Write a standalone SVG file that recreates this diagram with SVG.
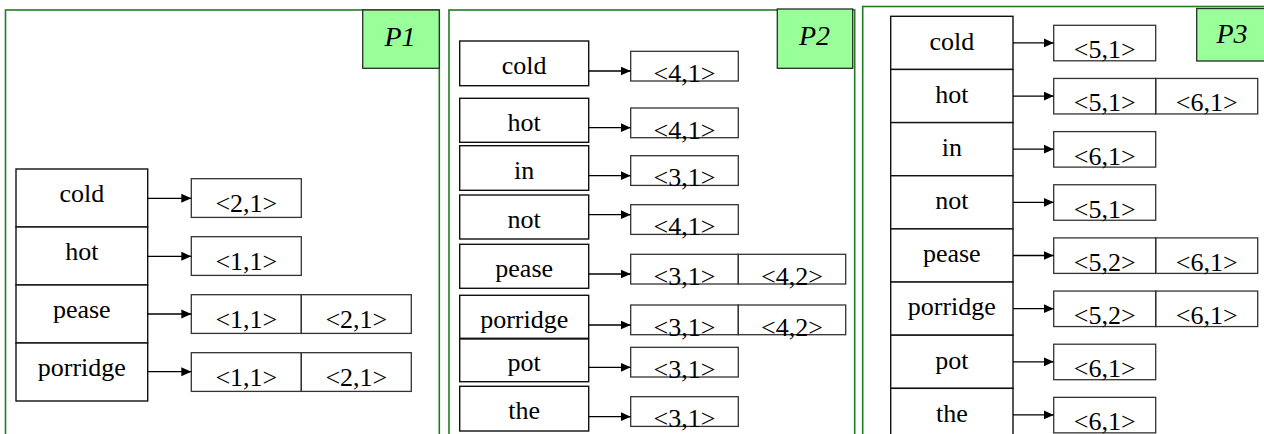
<svg xmlns="http://www.w3.org/2000/svg" width="1264" height="434" viewBox="0 0 1264 434">
<defs>
<style>
.panel{fill:#fff;stroke:#1e7d1e;stroke-width:1.6}
.lbl{fill:#99ff99;stroke:#2a2a2a;stroke-width:1.3}
.lt{font-family:'Liberation Serif','Tinos','Times New Roman','DejaVu Serif',serif;font-style:italic;font-size:28px;fill:#000;text-anchor:middle}
.w{fill:#fff;stroke:#111;stroke-width:1.4}
.v{fill:none;stroke:#333;stroke-width:1.3}
.t{font-family:'Liberation Serif','Tinos','Times New Roman','DejaVu Serif',serif;font-size:26px;fill:#000;text-anchor:middle}
.c{stroke:#000;stroke-width:1.3;fill:none;marker-end:url(#ah)}
</style>
<marker id="ah" markerUnits="userSpaceOnUse" markerWidth="12" markerHeight="10" refX="10" refY="5" orient="auto">
<path d="M0,0.5 L10,5 L0,9.5 Z" fill="#000"/>
</marker>
</defs>
<rect width="1264" height="434" fill="#fff"/>

<g id="panel-P1">
<rect class="panel" x="5.5" y="10" width="433.8" height="440"/>
<rect class="lbl" x="362.7" y="10" width="76.6" height="58.3"/>
<text class="lt" x="400" y="46" font-family="Liberation Serif, serif">P1</text>
</g>
<g id="panel-P2">
<rect class="panel" x="449" y="10" width="405.7" height="440"/>
<rect class="lbl" x="777.3" y="9" width="75.4" height="59.3"/>
<text class="lt" x="814.5" y="45" font-family="Liberation Serif, serif">P2</text>
</g>
<g id="panel-P3">
<rect class="panel" x="862.7" y="6.5" width="420" height="440"/>
<rect class="lbl" x="1196.7" y="8.5" width="80" height="52.5"/>
<text class="lt" x="1232" y="43" font-family="Liberation Serif, serif">P3</text>
</g>

<!-- P1 nodes -->
<g id="p1-cold"><rect class="w" x="16" y="169" width="131.7" height="58"/><text class="t" x="81.8" y="201.7">cold</text></g>
<g id="p1-hot"><rect class="w" x="16" y="227" width="131.7" height="58"/><text class="t" x="81.8" y="259.7">hot</text></g>
<g id="p1-pease"><rect class="w" x="16" y="285" width="131.7" height="58"/><text class="t" x="81.8" y="317.7">pease</text></g>
<g id="p1-porridge"><rect class="w" x="16" y="343" width="131.7" height="58"/><text class="t" x="81.8" y="375.7">porridge</text></g>
<g id="p1-cold-list"><rect class="v" x="191.3" y="178.7" width="110" height="38.7"/><text class="t" x="246.3" y="211.7">&lt;2,1&gt;</text></g>
<g id="p1-hot-list"><rect class="v" x="191.3" y="236.7" width="110" height="38.7"/><text class="t" x="246.3" y="269.7">&lt;1,1&gt;</text></g>
<g id="p1-pease-list"><rect class="v" x="191.3" y="294.7" width="110" height="38.7"/><rect class="v" x="301.3" y="294.7" width="110" height="38.7"/><text class="t" x="246.3" y="327.7">&lt;1,1&gt;</text><text class="t" x="356.3" y="327.7">&lt;2,1&gt;</text></g>
<g id="p1-porridge-list"><rect class="v" x="191.3" y="352.7" width="110" height="38.7"/><rect class="v" x="301.3" y="352.7" width="110" height="38.7"/><text class="t" x="246.3" y="385.7">&lt;1,1&gt;</text><text class="t" x="356.3" y="385.7">&lt;2,1&gt;</text></g>

<!-- P2 nodes -->
<g id="p2-cold"><rect class="w" x="459.7" y="41" width="129" height="44.7"/><text class="t" x="524.2" y="73.5">cold</text></g>
<g id="p2-hot"><rect class="w" x="459.7" y="98.3" width="129" height="44"/><text class="t" x="524.2" y="130.8">hot</text></g>
<g id="p2-in"><rect class="w" x="459.7" y="145.7" width="129" height="44.6"/><text class="t" x="524.2" y="178.7">in</text></g>
<g id="p2-not"><rect class="w" x="459.7" y="195" width="129" height="44"/><text class="t" x="524.2" y="227.5">not</text></g>
<g id="p2-pease"><rect class="w" x="459.7" y="244.3" width="129" height="44"/><text class="t" x="524.2" y="276.8">pease</text></g>
<g id="p2-porridge"><rect class="w" x="459.7" y="295.3" width="129" height="43"/><text class="t" x="524.2" y="328.3">porridge</text></g>
<g id="p2-pot"><rect class="w" x="459.7" y="339" width="129" height="42.7"/><text class="t" x="524.2" y="370.5">pot</text></g>
<g id="p2-the"><rect class="w" x="459.7" y="386.3" width="129" height="44.7"/><text class="t" x="524.2" y="419">the</text></g>
<g id="p2-cold-list"><rect class="v" x="630.7" y="51.3" width="107.6" height="29.7"/><text class="t" x="684.5" y="81.8">&lt;4,1&gt;</text></g>
<g id="p2-hot-list"><rect class="v" x="630.7" y="108" width="107.6" height="29.7"/><text class="t" x="684.5" y="138.5">&lt;4,1&gt;</text></g>
<g id="p2-in-list"><rect class="v" x="630.7" y="155.7" width="107.6" height="29.7"/><text class="t" x="684.5" y="186.2">&lt;3,1&gt;</text></g>
<g id="p2-not-list"><rect class="v" x="630.7" y="204.7" width="107.6" height="29.7"/><text class="t" x="684.5" y="235.2">&lt;4,1&gt;</text></g>
<g id="p2-pease-list"><rect class="v" x="630.7" y="254.3" width="107.6" height="29.7"/><rect class="v" x="738.3" y="254.3" width="107.4" height="29.7"/><text class="t" x="684.5" y="284.8">&lt;3,1&gt;</text><text class="t" x="792" y="284.8">&lt;4,2&gt;</text></g>
<g id="p2-porridge-list"><rect class="v" x="630.7" y="305" width="107.6" height="29.7"/><rect class="v" x="738.3" y="305" width="107.4" height="29.7"/><text class="t" x="684.5" y="335.5">&lt;3,1&gt;</text><text class="t" x="792" y="335.5">&lt;4,2&gt;</text></g>
<g id="p2-pot-list"><rect class="v" x="630.7" y="347.3" width="107.6" height="29.7"/><text class="t" x="684.5" y="377.8">&lt;3,1&gt;</text></g>
<g id="p2-the-list"><rect class="v" x="630.7" y="396.7" width="107.6" height="29.7"/><text class="t" x="684.5" y="427.2">&lt;3,1&gt;</text></g>

<!-- P3 nodes -->
<g id="p3-cold"><rect class="w" x="890.7" y="16.3" width="122.3" height="53.15"/><text class="t" x="951.8" y="49.6">cold</text></g>
<g id="p3-hot"><rect class="w" x="890.7" y="69.45" width="122.3" height="53.15"/><text class="t" x="951.8" y="102.75">hot</text></g>
<g id="p3-in"><rect class="w" x="890.7" y="122.6" width="122.3" height="53.15"/><text class="t" x="951.8" y="155.9">in</text></g>
<g id="p3-not"><rect class="w" x="890.7" y="175.75" width="122.3" height="53.15"/><text class="t" x="951.8" y="209.05">not</text></g>
<g id="p3-pease"><rect class="w" x="890.7" y="228.9" width="122.3" height="53.15"/><text class="t" x="951.8" y="262.2">pease</text></g>
<g id="p3-porridge"><rect class="w" x="890.7" y="282.05" width="122.3" height="53.15"/><text class="t" x="951.8" y="315.35">porridge</text></g>
<g id="p3-pot"><rect class="w" x="890.7" y="335.2" width="122.3" height="53.15"/><text class="t" x="951.8" y="368.5">pot</text></g>
<g id="p3-the"><rect class="w" x="890.7" y="388.35" width="122.3" height="53.15"/><text class="t" x="951.8" y="421.65">the</text></g>
<g id="p3-cold-list"><rect class="v" x="1053.7" y="25.3" width="102" height="35.5"/><text class="t" x="1104.7" y="58.3">&lt;5,1&gt;</text></g>
<g id="p3-hot-list"><rect class="v" x="1053.7" y="78.45" width="102" height="35.5"/><rect class="v" x="1155.7" y="78.45" width="102" height="35.5"/><text class="t" x="1104.7" y="111.45">&lt;5,1&gt;</text><text class="t" x="1206.7" y="111.45">&lt;6,1&gt;</text></g>
<g id="p3-in-list"><rect class="v" x="1053.7" y="131.6" width="102" height="35.5"/><text class="t" x="1104.7" y="164.6">&lt;6,1&gt;</text></g>
<g id="p3-not-list"><rect class="v" x="1053.7" y="184.75" width="102" height="35.5"/><text class="t" x="1104.7" y="217.75">&lt;5,1&gt;</text></g>
<g id="p3-pease-list"><rect class="v" x="1053.7" y="237.9" width="102" height="35.5"/><rect class="v" x="1155.7" y="237.9" width="102" height="35.5"/><text class="t" x="1104.7" y="270.9">&lt;5,2&gt;</text><text class="t" x="1206.7" y="270.9">&lt;6,1&gt;</text></g>
<g id="p3-porridge-list"><rect class="v" x="1053.7" y="291.05" width="102" height="35.5"/><rect class="v" x="1155.7" y="291.05" width="102" height="35.5"/><text class="t" x="1104.7" y="324.05">&lt;5,2&gt;</text><text class="t" x="1206.7" y="324.05">&lt;6,1&gt;</text></g>
<g id="p3-pot-list"><rect class="v" x="1053.7" y="344.2" width="102" height="35.5"/><text class="t" x="1104.7" y="377.2">&lt;6,1&gt;</text></g>
<g id="p3-the-list"><rect class="v" x="1053.7" y="397.35" width="102" height="35.5"/><text class="t" x="1104.7" y="430.35">&lt;6,1&gt;</text></g>

<g id="connectors">
<line class="c" x1="147.7" y1="198.3" x2="191.3" y2="198.3"/>
<line class="c" x1="147.7" y1="256.3" x2="191.3" y2="256.3"/>
<line class="c" x1="147.7" y1="314" x2="191.3" y2="314"/>
<line class="c" x1="147.7" y1="371.7" x2="191.3" y2="371.7"/>

<line class="c" x1="588.7" y1="71" x2="630.7" y2="71"/>
<line class="c" x1="588.7" y1="127.7" x2="630.7" y2="127.7"/>
<line class="c" x1="588.7" y1="175.7" x2="630.7" y2="175.7"/>
<line class="c" x1="588.7" y1="214.7" x2="630.7" y2="214.7"/>
<line class="c" x1="588.7" y1="274" x2="630.7" y2="274"/>
<line class="c" x1="588.7" y1="325" x2="630.7" y2="325"/>
<line class="c" x1="588.7" y1="367.3" x2="630.7" y2="367.3"/>
<line class="c" x1="588.7" y1="416.7" x2="630.7" y2="416.7"/>

<line class="c" x1="1013" y1="42.9" x2="1053.7" y2="42.9"/>
<line class="c" x1="1013" y1="96.05" x2="1053.7" y2="96.05"/>
<line class="c" x1="1013" y1="149.2" x2="1053.7" y2="149.2"/>
<line class="c" x1="1013" y1="202.35" x2="1053.7" y2="202.35"/>
<line class="c" x1="1013" y1="255.5" x2="1053.7" y2="255.5"/>
<line class="c" x1="1013" y1="308.65" x2="1053.7" y2="308.65"/>
<line class="c" x1="1013" y1="361.8" x2="1053.7" y2="361.8"/>
<line class="c" x1="1013" y1="414.95" x2="1053.7" y2="414.95"/>
</g>
</svg>
